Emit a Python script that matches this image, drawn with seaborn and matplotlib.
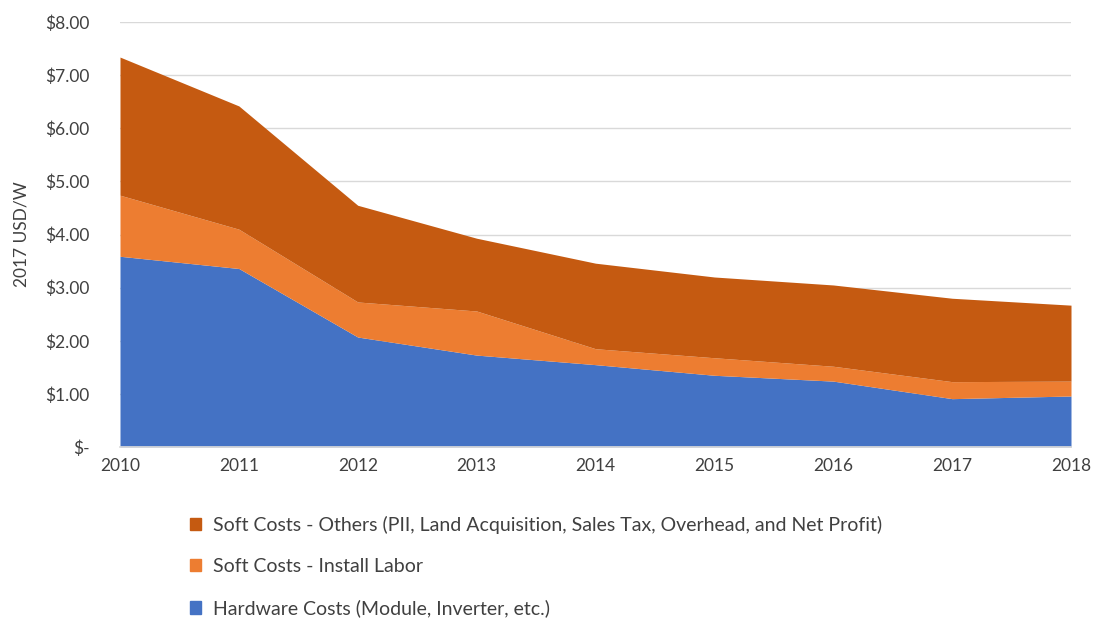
import matplotlib
matplotlib.use("Agg")
import matplotlib.pyplot as plt
import matplotlib.patches as mpatches
import seaborn as sns
import pandas as pd

years = [2010, 2011, 2012, 2013, 2014, 2015, 2016, 2017, 2018]
hardware = [3.59, 3.36, 2.07, 1.73, 1.55, 1.35, 1.24, 0.91, 0.96]
install_labor = [1.15, 0.74, 0.66, 0.83, 0.30, 0.33, 0.28, 0.32, 0.28]
soft_others = [2.60, 2.32, 1.82, 1.37, 1.61, 1.52, 1.53, 1.57, 1.43]

series_names = [
    "Hardware Costs (Module, Inverter, etc.)",
    "Soft Costs - Install Labor",
    "Soft Costs - Others (PII, Land Acquisition, Sales Tax, Overhead, and Net Profit)",
]
colors = ["#4472C4", "#ED7D31", "#C55A11"]
y_ticks = [0, 1, 2, 3, 4, 5, 6, 7, 8]
y_tick_labels = ["$-", "$1.00", "$2.00", "$3.00", "$4.00", "$5.00", "$6.00", "$7.00", "$8.00"]

df = pd.DataFrame({"year": years, series_names[0]: hardware,
                   series_names[1]: install_labor, series_names[2]: soft_others})

sns.set_theme(style="white")
plt.rcParams["font.family"] = ["Lato", "DejaVu Sans"]
txt = "#404040"

fig = plt.figure(figsize=(10.97, 6.2), dpi=100)
ax = fig.add_axes([120/1097, 1-447/620, (1071-120)/1097, (447-22)/620])

ax.stackplot(df["year"], df[series_names[0]], df[series_names[1]], df[series_names[2]],
             colors=colors, linewidth=0)

ax.set_xlim(2010, 2018)
ax.set_ylim(0, 8)
ax.set_yticks(y_ticks)
ax.set_yticklabels(y_tick_labels)
ax.set_xticks(years)
ax.set_xticklabels([str(y) for y in years])
ax.yaxis.grid(True, color="#D9D9D9", linewidth=1)
ax.set_axisbelow(True)
for s in ["top", "right", "left"]:
    ax.spines[s].set_visible(False)
ax.spines["bottom"].set_color("#D9D9D9")
ax.tick_params(axis="both", labelsize=12.5, colors=txt, length=0)
ax.tick_params(axis="y", pad=22)
ax.tick_params(axis="x", pad=8)
ax.set_ylabel("2017 USD/W", fontsize=12.5, color=txt, labelpad=12)
ax.yaxis.set_label_coords(-0.095, 0.5)

handles = [mpatches.Patch(color=colors[i], label=series_names[i]) for i in [2, 1, 0]]
fig.legend(handles=handles, loc="upper left", bbox_to_anchor=(182/1097, 1-508/620),
           frameon=False, fontsize=14, labelcolor=txt, handlelength=0.6, handleheight=0.6,
           handletextpad=0.6, labelspacing=1.25, borderaxespad=0)

fig.savefig("out.png", dpi=100)
